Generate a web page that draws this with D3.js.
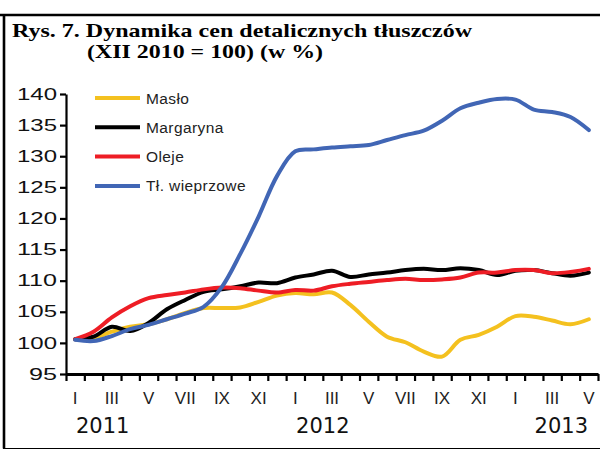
<!DOCTYPE html>
<html>
<head>
<meta charset="utf-8">
<script src="https://cdn.jsdelivr.net/npm/d3@7"></script>
<style>
  html, body { margin: 0; padding: 0; background: #fff; }
  svg { display: block; }
</style>
</head>
<body>
<script>
// Monthly retail price indices of fats, XII 2010 = 100
const months = ["I","II","III","IV","V","VI","VII","VIII","IX","X","XI","XII",
                "I","II","III","IV","V","VI","VII","VIII","IX","X","XI","XII",
                "I","II","III","IV","V"];
const years = ["2011", "2012", "2013"];
const yearEdge = [2, 14, 27];          // month boundary each year label sits under
const yTicks = [95, 100, 105, 110, 115, 120, 125, 130, 135, 140];

const seriesNames = ["Masło", "Margaryna", "Oleje", "Tł. wieprzowe"];

const maslo = [100.6, 100.8, 101.8, 102.6, 103.0, 103.8, 104.8, 105.6, 105.6, 105.7, 106.6, 107.6,
               108.0, 107.8, 108.1, 106.1, 103.4, 101.0, 100.1, 98.6, 97.8, 100.5, 101.3, 102.6,
               104.3, 104.2, 103.6, 103.0, 103.8];
const margaryna = [100.6, 101.0, 102.6, 101.9, 103.2, 105.4, 106.9, 108.2, 108.6, 109.1, 109.7, 109.6,
                   110.5, 111.0, 111.6, 110.6, 111.0, 111.3, 111.7, 111.9, 111.7, 112.0, 111.7, 110.9,
                   111.6, 111.7, 111.2, 110.8, 111.3];
const oleje = [100.6, 101.8, 104.1, 105.9, 107.2, 107.7, 108.1, 108.6, 108.9, 108.8, 108.4, 108.1,
               108.5, 108.4, 109.1, 109.5, 109.8, 110.1, 110.3, 110.1, 110.2, 110.5, 111.3, 111.3,
               111.7, 111.7, 111.2, 111.4, 111.9];
const wieprzowe = [100.5, 100.3, 101.1, 102.2, 102.9, 103.8, 104.7, 105.8, 109.0, 114.3, 120.3, 126.8,
                   130.8, 131.1, 131.4, 131.6, 131.8, 132.6, 133.4, 134.1, 135.7, 137.7, 138.6, 139.2,
                   139.1, 137.5, 137.1, 136.3, 134.2];

const seriesValues = [maslo, margaryna, oleje, wieprzowe];
const seriesColors = ["#F4C11F", "#000000", "#EE1D25", "#4166B5"];

const W = 600, H = 450;
const svg = d3.select("body").append("svg").attr("width", W).attr("height", H);

// frame: top rule, left rule, bottom rule
svg.append("line").attr("x1", 0).attr("x2", W).attr("y1", 15).attr("y2", 15)
  .attr("stroke", "#000").attr("stroke-width", 2.6);
svg.append("line").attr("x1", 4).attr("x2", 4).attr("y1", 15).attr("y2", 448.5)
  .attr("stroke", "#000").attr("stroke-width", 2.6);
svg.append("line").attr("x1", 3).attr("x2", W).attr("y1", 448.5).attr("y2", 448.5)
  .attr("stroke", "#000").attr("stroke-width", 1.2);

// title (set wide)
const title = svg.append("g")
  .attr("font-family", "'Liberation Serif', 'Times New Roman', serif")
  .attr("font-weight", "bold").attr("font-size", 19.5).attr("fill", "#000");
title.append("text").attr("x", 12).attr("y", 37)
  .attr("textLength", 460).attr("lengthAdjust", "spacingAndGlyphs")
  .text("Rys. 7. Dynamika cen detalicznych tłuszczów");
title.append("text").attr("x", 87).attr("y", 58)
  .attr("textLength", 236).attr("lengthAdjust", "spacingAndGlyphs")
  .text("(XII 2010 = 100) (w %)");

// scales
const plotLeft = 66, plotRight = 598, plotTop = 94, plotBottom = 374;
const x = d3.scaleBand().domain(d3.range(months.length)).range([plotLeft, plotRight]).padding(0);
const xEdge = d3.scaleLinear().domain([0, months.length]).range([plotLeft, plotRight]);
const y = d3.scaleLinear().domain([95, 140]).range([plotBottom, plotTop]);

// y axis
const yAxis = svg.append("g").attr("transform", `translate(${plotLeft},0)`)
  .call(d3.axisLeft(y).tickValues(yTicks).tickSize(6).tickSizeOuter(0).tickPadding(3));
yAxis.select(".domain").attr("stroke", "#000").attr("stroke-width", 2.2);
yAxis.selectAll(".tick line").attr("stroke", "#000").attr("stroke-width", 2.2);
yAxis.selectAll(".tick text")
  .attr("font-family", "'Liberation Sans', Arial, sans-serif")
  .attr("font-size", 16).attr("fill", "#111")
  .attr("textLength", d => String(d).length === 2 ? 28 : 40)
  .attr("lengthAdjust", "spacingAndGlyphs");

// x axis: ticks on month boundaries
const xTickAxis = svg.append("g").attr("transform", `translate(0,${plotBottom})`)
  .call(d3.axisBottom(xEdge).tickValues(d3.range(months.length + 1)).tickSize(7)
    .tickSizeOuter(0).tickFormat(""));
xTickAxis.select(".domain").attr("stroke", "#000").attr("stroke-width", 2.8);
xTickAxis.selectAll(".tick line").attr("stroke", "#000").attr("stroke-width", 2.2);

// x axis: month labels (every other month) centred in each band
const xLabelAxis = svg.append("g").attr("transform", `translate(0,${plotBottom})`)
  .call(d3.axisBottom(x).tickSize(0).tickPadding(18)
    .tickFormat((d, i) => i % 2 === 0 ? months[i] : ""));
xLabelAxis.select(".domain").remove();
xLabelAxis.selectAll(".tick text")
  .attr("font-family", "'Liberation Sans', Arial, sans-serif")
  .attr("font-size", 17).attr("fill", "#222");

// year labels
svg.append("g").selectAll("text").data(years).join("text")
  .attr("x", (d, i) => xEdge(yearEdge[i]))
  .attr("y", 433)
  .attr("text-anchor", "middle")
  .attr("font-family", "'DejaVu Sans', 'Liberation Sans', sans-serif")
  .attr("font-size", 21).attr("fill", "#111")
  .text(d => d);

// series lines
const line = d3.line()
  .x((d, i) => x(i) + x.bandwidth() / 2)
  .y(d => y(d))
  .curve(d3.curveCatmullRom.alpha(0.5));

svg.append("g").selectAll("path").data(seriesValues).join("path")
  .attr("d", d => line(d))
  .attr("fill", "none")
  .attr("stroke", (d, i) => seriesColors[i])
  .attr("stroke-width", 4)
  .attr("stroke-linejoin", "round")
  .attr("stroke-linecap", "round");

// legend
const legend = svg.append("g").selectAll("g").data(seriesNames).join("g")
  .attr("transform", (d, i) => `translate(95,${98 + i * 29.3})`);
legend.append("line").attr("x1", 0).attr("x2", 45).attr("y1", 0).attr("y2", 0)
  .attr("stroke", (d, i) => seriesColors[i]).attr("stroke-width", 4);
legend.append("text").attr("x", 51).attr("y", 5.5)
  .attr("font-family", "'Liberation Sans', Arial, sans-serif")
  .attr("font-size", 15.5).attr("fill", "#222").attr("letter-spacing", 0.4)
  .text(d => d);
</script>
</body>
</html>
